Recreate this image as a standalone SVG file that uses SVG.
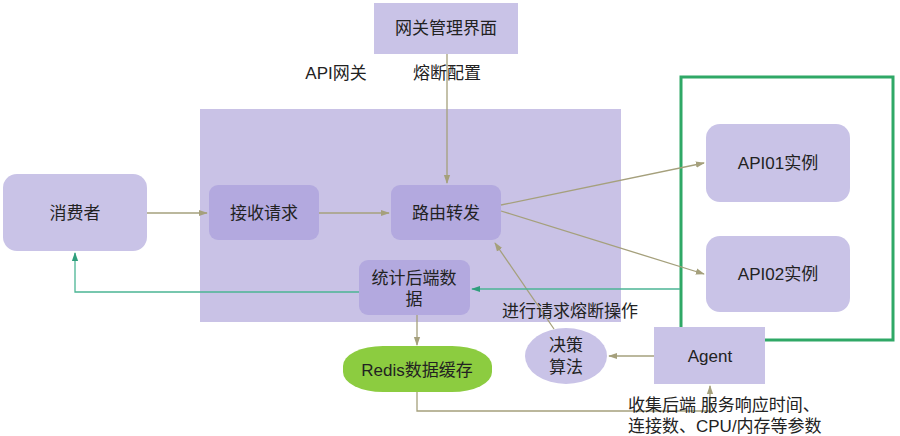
<svg xmlns="http://www.w3.org/2000/svg" width="900" height="436" viewBox="0 0 900 436">
<style>
text{font-family:"Liberation Sans","Noto Sans CJK SC",sans-serif;font-size:17px;fill:#222;text-anchor:middle;dominant-baseline:central}
.lbl{text-anchor:start}
.box{fill:#c9c3e7}
.inner{fill:#b3a9df}
.ar{stroke:#a5a07c;stroke-width:1.3;fill:none}
.gr{stroke:#4bb594;stroke-width:1.3;fill:none}
</style>
<defs>
<marker id="a" viewBox="0 0 10 10" refX="9" refY="5" markerWidth="7" markerHeight="7" orient="auto"><path d="M0,1.5 L10,5 L0,8.5 z" fill="#a5a07c"/></marker>
<marker id="g" viewBox="0 0 10 10" refX="9" refY="5" markerWidth="7" markerHeight="7" orient="auto"><path d="M0,1.5 L10,5 L0,8.5 z" fill="#2f9e7c"/></marker>
</defs>
<rect width="900" height="436" fill="#fff"/>
<g id="gateway">
<rect x="200" y="109" width="421" height="213" fill="#c9c2e6"/>
<text x="336" y="73">API网关</text>
</g>
<g id="backend-group">
<rect x="681" y="77" width="212" height="263" fill="none" stroke="#2fa866" stroke-width="3"/>
</g>
<g id="mgmt">
<rect x="374" y="3" width="144" height="51" class="box"/>
<text x="446" y="28">网关管理界面</text>
</g>
<g id="consumer">
<rect x="3" y="174" width="144" height="77" rx="14" class="box"/>
<text x="75" y="213">消费者</text>
</g>
<g id="receive">
<rect x="209" y="185" width="110" height="55" rx="9" class="inner"/>
<text x="264" y="213">接收请求</text>
</g>
<g id="route">
<rect x="391" y="185" width="110" height="55" rx="9" class="inner"/>
<text x="446" y="213">路由转发</text>
</g>
<g id="stats">
<rect x="359" y="260" width="111" height="55" rx="9" class="inner"/>
<text x="414" y="278">统计后端数</text>
<text x="414" y="299">据</text>
</g>
<g id="api01">
<rect x="706" y="124" width="144" height="78" rx="14" class="box"/>
<text x="778" y="163">API01实例</text>
</g>
<g id="api02">
<rect x="706" y="236" width="144" height="76" rx="14" class="box"/>
<text x="778" y="274">API02实例</text>
</g>
<g id="redis">
<rect x="343" y="346" width="149" height="46" rx="40" ry="20" fill="#8ccc40"/>
<text x="417" y="370">Redis数据缓存</text>
</g>
<g id="decision">
<ellipse cx="566" cy="356" rx="41" ry="28" class="box"/>
<text x="566" y="345">决策</text>
<text x="566" y="367">算法</text>
</g>
<g id="agent">
<rect x="654" y="327" width="111" height="57" class="box"/>
<text x="710" y="356">Agent</text>
</g>
<g id="connectors">
<path class="ar" d="M447,54 V183" marker-end="url(#a)"/>
<path class="ar" d="M147,213 H207" marker-end="url(#a)"/>
<path class="ar" d="M319,213 H389" marker-end="url(#a)"/>
<path class="ar" d="M501,205 L704,163" marker-end="url(#a)"/>
<path class="ar" d="M501,211 L704,274" marker-end="url(#a)"/>
<path class="ar" d="M417,315 V345" marker-end="url(#a)"/>
<path class="ar" d="M654,356 H609" marker-end="url(#a)"/>
<path class="ar" d="M554,329 L495,243" marker-end="url(#a)"/>
<path class="ar" d="M417,392 V411 H710 V386" marker-end="url(#a)"/>
<path class="gr" d="M680,289 H472" marker-end="url(#g)"/>
<path class="gr" d="M359,292 H75 V253" marker-end="url(#g)"/>
</g>
<g id="labels">
<text x="447" y="73">熔断配置</text>
<text class="lbl" x="502" y="311">进行请求熔断操作</text>
<text class="lbl" x="628" y="405">收集后端 服务响应时间、</text>
<text class="lbl" x="628" y="426">连接数、CPU/内存等参数</text>
</g>
</svg>
